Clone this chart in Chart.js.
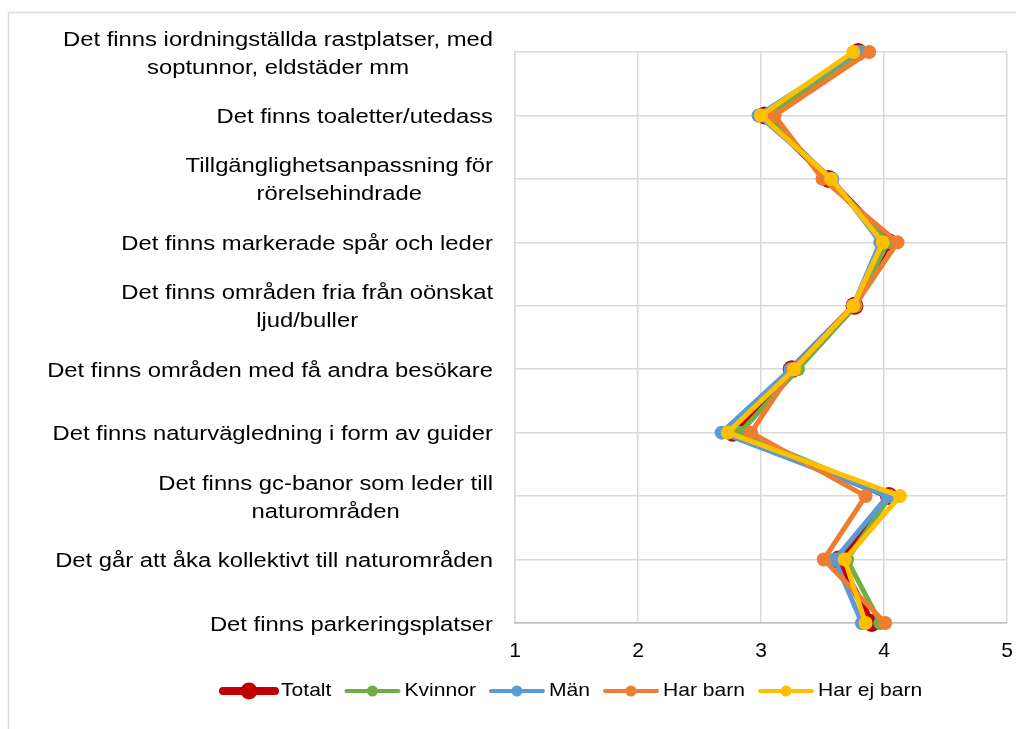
<!DOCTYPE html>
<html>
<head>
<meta charset="utf-8">
<script src="https://cdn.jsdelivr.net/npm/chart.js@4/dist/chart.umd.min.js"></script>
<style>
  html, body { margin: 0; padding: 0; background: #fff; }
  #wrap { position: relative; width: 1016px; height: 729px; }
</style>
</head>
<body>
<div id="wrap"><canvas id="c" width="1016" height="729"></canvas></div>
<script>
const categories = [
  ["Det finns iordningställda rastplatser, med", "soptunnor, eldstäder mm"],
  ["Det finns toaletter/utedass"],
  ["Tillgänglighetsanpassning för", "rörelsehindrade"],
  ["Det finns markerade spår och leder"],
  ["Det finns områden fria från oönskat", "ljud/buller"],
  ["Det finns områden med få andra besökare"],
  ["Det finns naturvägledning i form av guider"],
  ["Det finns gc-banor som leder till", "naturområden"],
  ["Det går att åka kollektivt till naturområden"],
  ["Det finns parkeringsplatser"]
];
const seriesNames = ["Totalt", "Kvinnor", "Män", "Har barn", "Har ej barn"];
const totalt    = [3.79, 3.03, 3.55, 4.04, 3.76, 3.25, 2.77, 4.04, 3.63, 3.90];
const kvinnor   = [3.81, 3.04, 3.56, 4.03, 3.77, 3.30, 2.83, 4.05, 3.70, 3.97];
const man       = [3.78, 2.98, 3.58, 3.97, 3.75, 3.24, 2.68, 4.03, 3.60, 3.82];
const harBarn   = [3.88, 3.11, 3.50, 4.11, 3.76, 3.26, 2.92, 3.85, 3.51, 4.01];
const harEjBarn = [3.75, 3.00, 3.57, 3.99, 3.75, 3.27, 2.73, 4.13, 3.68, 3.85];
const xTicks = [1, 2, 3, 4, 5];

const colors = ["#C00000", "#70AD47", "#5B9BD5", "#ED7D31", "#FFC000"];
const lineW  = [7, 5, 5, 5, 5];
const ptR    = [9, 7, 7, 7, 7];
const allData = [totalt, kvinnor, man, harBarn, harEjBarn];

const FONT = "'Liberation Sans', Arial, sans-serif";

const datasets = allData.map((d, i) => ({
  label: seriesNames[i],
  data: d,
  borderColor: colors[i],
  backgroundColor: colors[i],
  borderWidth: lineW[i],
  pointRadius: ptR[i],
  pointHoverRadius: ptR[i],
  pointBorderWidth: 0,
  pointBackgroundColor: colors[i],
  borderJoinStyle: 'round',
  borderCapStyle: 'round',
  tension: 0,
  order: 5 - i
}));

const framePlugin = {
  id: 'frame',
  beforeDraw(chart) {
    const ctx = chart.ctx;
    ctx.save();
    ctx.strokeStyle = '#d9d9d9';
    ctx.lineWidth = 1.5;
    ctx.strokeRect(8.5, 12.5, 1020, 740);
    ctx.restore();
  }
};

const labelsPlugin = {
  id: 'ylabels',
  afterDraw(chart) {
    const ctx = chart.ctx;
    const ys = chart.scales.y;
    const sx = 1.19;
    ctx.save();
    ctx.font = '20px ' + FONT;
    ctx.fillStyle = '#000';
    ctx.textBaseline = 'middle';
    ctx.textAlign = 'center';
    const right = 493;
    const lh = 28;
    categories.forEach((lines, i) => {
      const y = ys.getPixelForValue(i) + 2;
      let maxW = 0;
      lines.forEach(l => { maxW = Math.max(maxW, ctx.measureText(l).width * sx); });
      const cx = right - maxW / 2;
      const y0 = y - (lines.length - 1) * lh / 2;
      lines.forEach((l, k) => {
        ctx.save();
        ctx.translate(cx, y0 + k * lh);
        ctx.scale(sx, 1);
        ctx.fillText(l, 0, 0);
        ctx.restore();
      });
    });
    ctx.restore();
  }
};

const legendPlugin = {
  id: 'customLegend',
  afterDraw(chart) {
    const ctx = chart.ctx;
    const sx = 1.11;
    ctx.save();
    ctx.font = '19px ' + FONT;
    ctx.textBaseline = 'middle';
    ctx.textAlign = 'left';
    let x = 221;
    const y = 691;
    const lineLen = 56;
    seriesNames.forEach((name, i) => {
      ctx.strokeStyle = colors[i];
      ctx.lineWidth = i === 0 ? 8 : 4;
      ctx.lineCap = 'round';
      ctx.beginPath();
      ctx.moveTo(x + 2, y);
      ctx.lineTo(x + lineLen - 2, y);
      ctx.stroke();
      ctx.fillStyle = colors[i];
      ctx.beginPath();
      ctx.arc(x + lineLen / 2, y, i === 0 ? 8.5 : 5.5, 0, Math.PI * 2);
      ctx.fill();
      const tx = x + lineLen + 4;
      ctx.fillStyle = '#000';
      ctx.save();
      ctx.translate(tx, y);
      ctx.scale(sx, 1);
      ctx.fillText(name, 0, 0);
      ctx.restore();
      const w = ctx.measureText(name).width * sx;
      x = tx + w + 13;
    });
    ctx.restore();
  }
};

new Chart(document.getElementById('c'), {
  type: 'line',
  data: { labels: categories.map(c => c.join(' ')), datasets },
  options: {
    responsive: false,
    animation: false,
    indexAxis: 'y',
    layout: { padding: { left: 0, top: 52, right: 9, bottom: 0 } },
    plugins: { legend: { display: false }, tooltip: { enabled: false } },
    scales: {
      y: {
        type: 'category',
        offset: false,
        ticks: { display: false },
        grid: { color: '#d9d9d9', lineWidth: 1.5, drawTicks: false },
        border: { display: true, color: '#d9d9d9', width: 1.5 },
        afterFit(scale) { scale.width = 515; scale.paddingTop = 0; scale.paddingBottom = 0; }
      },
      x: {
        type: 'linear',
        min: 1, max: 5,
        afterBuildTicks(scale) { scale.ticks = xTicks.map(v => ({ value: v })); },
        ticks: { font: { size: 21, family: FONT }, color: '#000', padding: 16 },
        grid: { color: '#d9d9d9', lineWidth: 1.5, drawTicks: false },
        border: { display: true, color: '#bfbfbf', width: 1.5 },
        afterFit(scale) { scale.height = 106; scale.paddingLeft = 0; scale.paddingRight = 0; }
      }
    }
  },
  plugins: [framePlugin, labelsPlugin, legendPlugin]
});
</script>
</body>
</html>
